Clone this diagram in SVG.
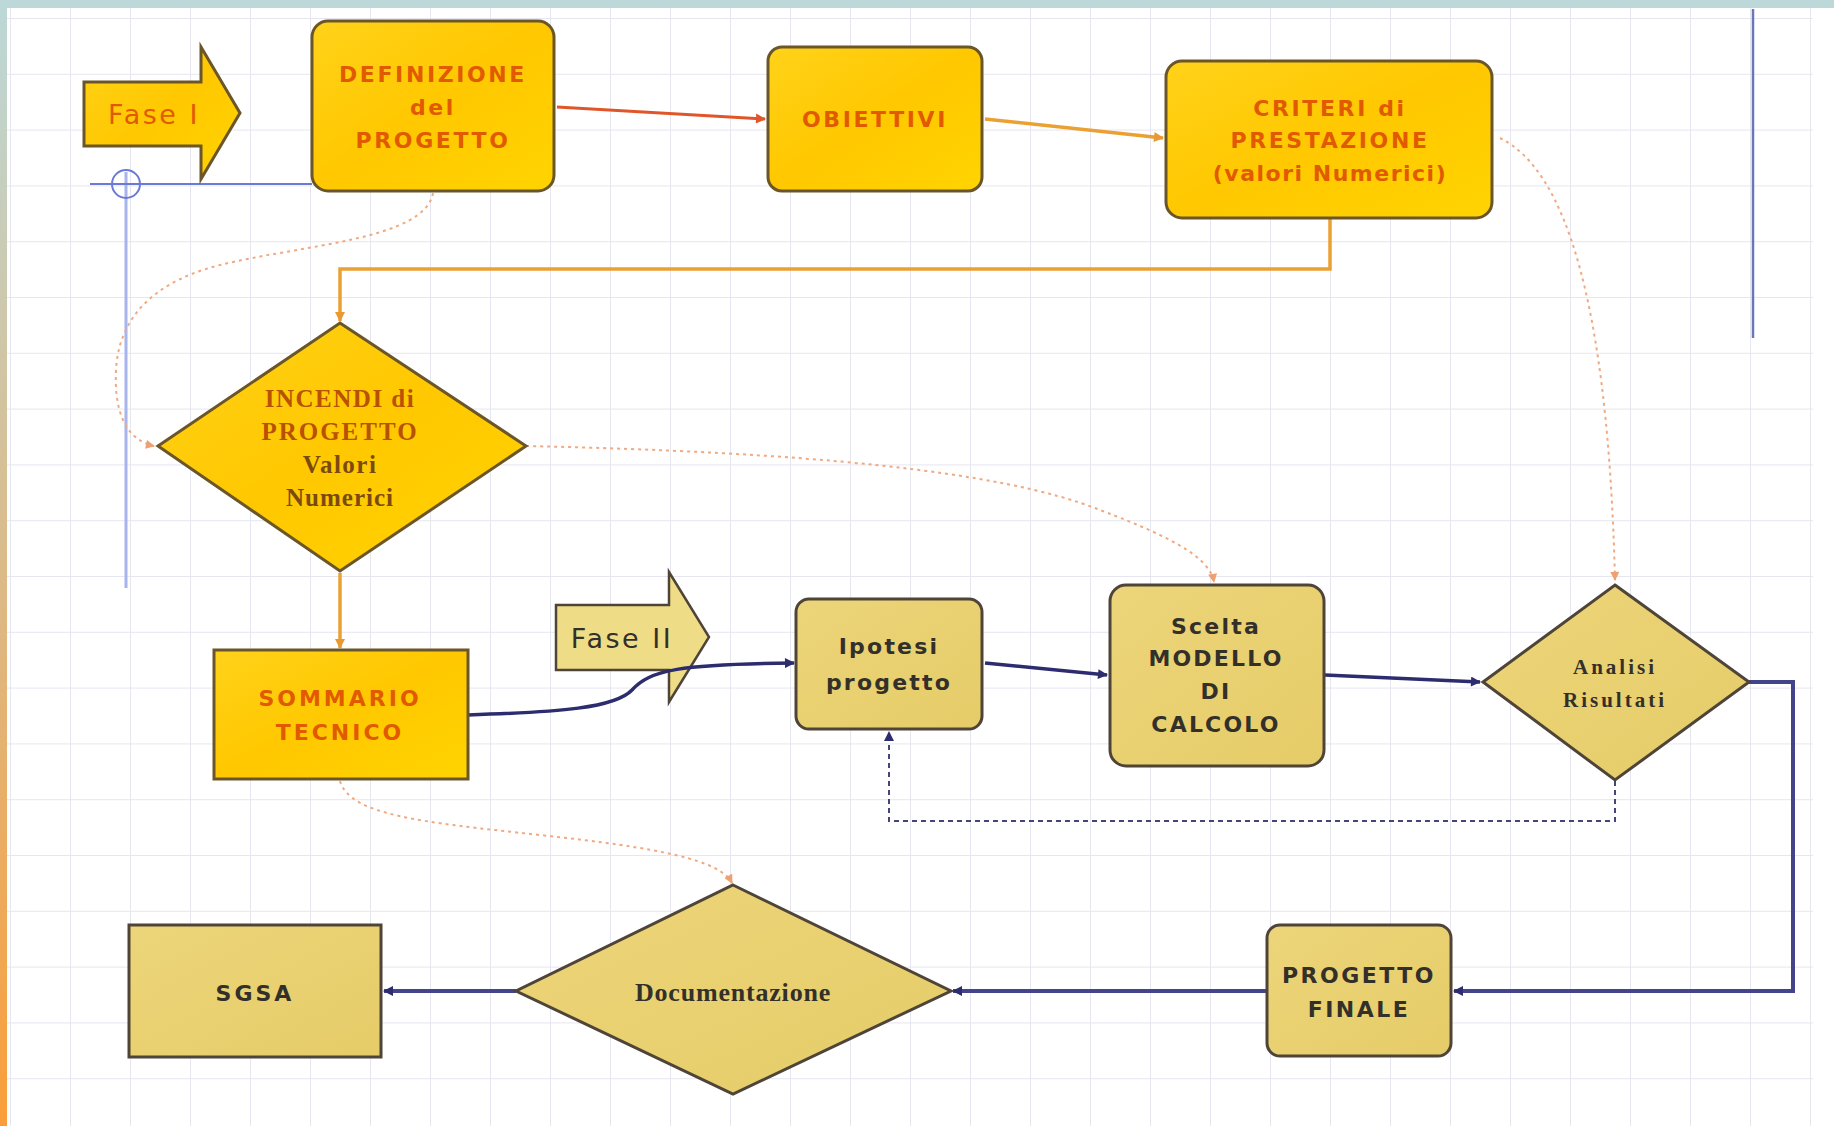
<svg xmlns="http://www.w3.org/2000/svg" width="1834" height="1126" viewBox="0 0 1834 1126">
<defs>
  <pattern id="grid" x="10" y="18" width="60" height="55.8" patternUnits="userSpaceOnUse">
    <path d="M0,0 V55.8 M0,0 H60" fill="none" stroke="#e6e6f0" stroke-width="2"/>
  </pattern>
  <linearGradient id="leftStrip" x1="0" y1="0" x2="0" y2="1">
    <stop offset="0" stop-color="#bcd8d8"/>
    <stop offset="1" stop-color="#fa9e3a"/>
  </linearGradient>
  <linearGradient id="gold" x1="0" y1="0" x2="1" y2="1">
    <stop offset="0" stop-color="#ffd21a"/>
    <stop offset="0.5" stop-color="#ffc800"/>
    <stop offset="1" stop-color="#ffd400"/>
  </linearGradient>
  <linearGradient id="khaki" x1="0" y1="0" x2="1" y2="1">
    <stop offset="0" stop-color="#ecd57a"/>
    <stop offset="1" stop-color="#e6cc68"/>
  </linearGradient>
  <marker id="ahRed" viewBox="0 0 10 10" refX="9" refY="5" markerWidth="12" markerHeight="10" markerUnits="userSpaceOnUse" orient="auto">
    <path d="M0,0 L10,5 L0,10 Z" fill="#e0562a"/>
  </marker>
  <marker id="ahOrange" viewBox="0 0 10 10" refX="9" refY="5" markerWidth="12" markerHeight="10" markerUnits="userSpaceOnUse" orient="auto">
    <path d="M0,0 L10,5 L0,10 Z" fill="#e89a30"/>
  </marker>
  <marker id="ahDot" viewBox="0 0 10 10" refX="9" refY="5" markerWidth="10" markerHeight="9" markerUnits="userSpaceOnUse" orient="auto">
    <path d="M0,0 L10,5 L0,10 Z" fill="#eea070"/>
  </marker>
  <marker id="ahNavy" viewBox="0 0 10 10" refX="9" refY="5" markerWidth="12" markerHeight="10" markerUnits="userSpaceOnUse" orient="auto">
    <path d="M0,0 L10,5 L0,10 Z" fill="#2c2c6e"/>
  </marker>
  <style>
    .gold { fill: url(#gold); stroke: #6a5628; stroke-width: 3; }
    .khaki { fill: url(#khaki); stroke: #4e4438; stroke-width: 3; }
    .t1 { font-family: "DejaVu Sans", Verdana, sans-serif; font-weight: bold; font-size: 22px; fill: #e25a00; text-anchor: middle; letter-spacing: 2.6px; }
    .t2 { font-family: "DejaVu Sans", Verdana, sans-serif; font-weight: bold; font-size: 22px; fill: #33302a; text-anchor: middle; letter-spacing: 2.2px; }
    .ts { font-family: "Liberation Serif", "Times New Roman", serif; font-weight: bold; text-anchor: middle; }
    .fase { font-family: "DejaVu Sans", Verdana, sans-serif; font-size: 27px; text-anchor: middle; letter-spacing: 2.5px; }
    .cRed { fill: none; stroke: #e0562a; stroke-width: 3; }
    .cOr { fill: none; stroke: #eba034; stroke-width: 3.5; }
    .cNavy { fill: none; stroke: #2c2c6e; stroke-width: 3.5; }
    .cBlue { fill: none; stroke: #44448a; stroke-width: 4; }
    .cDot { fill: none; stroke: #f0aa80; stroke-width: 2; stroke-dasharray: 3 4; }
    .cDash { fill: none; stroke: #45457a; stroke-width: 2; stroke-dasharray: 5 4; }
  </style>
</defs>

<!-- background -->
<rect x="0" y="0" width="1834" height="1126" fill="#ffffff"/>
<rect x="7" y="8" width="1806" height="1118" fill="url(#grid)"/>
<rect x="0" y="0" width="1834" height="8" fill="#bcd8d8"/>
<rect x="0" y="0" width="7" height="1126" fill="url(#leftStrip)"/>

<!-- decorations (blue guide lines) -->
<g id="guides">
  <line x1="126" y1="172" x2="126" y2="588" stroke="#a8b4ec" stroke-width="3"/>
  <line x1="90" y1="184" x2="312" y2="184" stroke="#6a7ad8" stroke-width="2"/>
  <circle cx="126" cy="184" r="14" fill="none" stroke="#6a7ad8" stroke-width="2"/>
  <line x1="1753" y1="9" x2="1753" y2="338" stroke="#6a78b8" stroke-width="2.5"/>
</g>

<!-- phase arrows -->
<g id="fase1">
  <path d="M84,82 H201 V47 L240,113 L201,179 V146 H84 Z" class="gold"/>
  <text x="154" y="124" class="fase" fill="#e25a00">Fase I</text>
</g>
<g id="fase2">
  <path d="M556,605 H669 V572 L709,637 L669,702 V670 H556 Z" fill="#efdc86" stroke="#4e4438" stroke-width="2.5"/>
  <text x="622" y="648" class="fase" fill="#33302a">Fase II</text>
</g>

<!-- connectors -->
<g id="connectors">
  <line x1="557" y1="107" x2="765" y2="119" class="cRed" marker-end="url(#ahRed)"/>
  <line x1="985" y1="119" x2="1163" y2="138" class="cOr" marker-end="url(#ahOrange)"/>
  <path d="M1330,219 V269 H340 V321" class="cOr" marker-end="url(#ahOrange)"/>
  <line x1="340" y1="573" x2="340" y2="648" class="cOr" marker-end="url(#ahOrange)"/>

  <path d="M433,193 C425,240 300,245 220,265 C140,285 118,330 116,370 C114,410 125,440 154,446" class="cDot" marker-end="url(#ahDot)"/>
  <path d="M526,446 C800,452 1000,470 1100,510 C1180,540 1210,560 1214,582" class="cDot" marker-end="url(#ahDot)"/>
  <path d="M1500,138 C1565,170 1608,300 1615,580" class="cDot" marker-end="url(#ahDot)"/>
  <path d="M340,781 C350,815 420,822 540,835 C660,848 720,860 732,883" class="cDot" marker-end="url(#ahDot)"/>

  <path d="M468,715 C560,712 615,708 632,690 C650,670 680,664 794,663" class="cNavy" marker-end="url(#ahNavy)"/>
  <line x1="985" y1="663" x2="1107" y2="675" class="cNavy" marker-end="url(#ahNavy)"/>
  <line x1="1325" y1="675" x2="1480" y2="682" class="cNavy" marker-end="url(#ahNavy)"/>
  <path d="M1749,682 H1793 V991 H1454" class="cBlue" marker-end="url(#ahNavy)"/>
  <line x1="1267" y1="991" x2="953" y2="991" class="cBlue" marker-end="url(#ahNavy)"/>
  <line x1="516" y1="991" x2="384" y2="991" class="cBlue" marker-end="url(#ahNavy)"/>
  <path d="M1615,781 V821 H889 V732" class="cDash" marker-end="url(#ahNavy)"/>
</g>

<!-- nodes -->
<g id="definizione">
  <rect x="312" y="21" width="242" height="170" rx="16" class="gold"/>
  <text class="t1" x="433" y="82">DEFINIZIONE</text>
  <text class="t1" x="433" y="115">del</text>
  <text class="t1" x="433" y="148">PROGETTO</text>
</g>
<g id="obiettivi">
  <rect x="768" y="47" width="214" height="144" rx="14" class="gold"/>
  <text class="t1" x="875" y="127">OBIETTIVI</text>
</g>
<g id="criteri">
  <rect x="1166" y="61" width="326" height="157" rx="16" class="gold"/>
  <text class="t1" x="1330" y="116">CRITERI di</text>
  <text class="t1" x="1330" y="148">PRESTAZIONE</text>
  <text class="t1" x="1330" y="181" style="letter-spacing:1.5px">(valori Numerici)</text>
</g>
<g id="incendi">
  <polygon points="340,323 526,446 340,571 158,446" class="gold"/>
  <text class="ts" x="340" y="407" font-size="25" fill="#b85200" letter-spacing="1.5">INCENDI di</text>
  <text class="ts" x="340" y="440" font-size="25" fill="#b85200" letter-spacing="2">PROGETTO</text>
  <text class="ts" x="340" y="473" font-size="25" fill="#7a4a10" letter-spacing="1.5">Valori</text>
  <text class="ts" x="340" y="506" font-size="25" fill="#7a4a10" letter-spacing="1">Numerici</text>
</g>
<g id="sommario">
  <rect x="214" y="650" width="254" height="129" class="gold"/>
  <text class="t1" x="340" y="706" style="letter-spacing:3px">SOMMARIO</text>
  <text class="t1" x="340" y="740" style="letter-spacing:3px">TECNICO</text>
</g>
<g id="ipotesi">
  <rect x="796" y="599" width="186" height="130" rx="13" class="khaki"/>
  <text class="t2" x="889" y="654">Ipotesi</text>
  <text class="t2" x="889" y="690">progetto</text>
</g>
<g id="scelta">
  <rect x="1110" y="585" width="214" height="181" rx="16" class="khaki"/>
  <text class="t2" x="1216" y="634">Scelta</text>
  <text class="t2" x="1216" y="666">MODELLO</text>
  <text class="t2" x="1216" y="699">DI</text>
  <text class="t2" x="1216" y="732">CALCOLO</text>
</g>
<g id="analisi">
  <polygon points="1615,585 1749,682 1615,780 1483,682" class="khaki"/>
  <text class="ts" x="1615" y="674" font-size="21" fill="#33302a" letter-spacing="3">Analisi</text>
  <text class="ts" x="1615" y="707" font-size="21" fill="#33302a" letter-spacing="3">Risultati</text>
</g>
<g id="progetto-finale">
  <rect x="1267" y="925" width="184" height="131" rx="13" class="khaki"/>
  <text class="t2" x="1359" y="983" style="letter-spacing:2.5px">PROGETTO</text>
  <text class="t2" x="1359" y="1017" style="letter-spacing:2.5px">FINALE</text>
</g>
<g id="documentazione">
  <polygon points="733,885 951,991 733,1094 516,991" class="khaki"/>
  <text class="ts" x="733" y="1001" font-size="26" fill="#33302a" letter-spacing="0.8">Documentazione</text>
</g>
<g id="sgsa">
  <rect x="129" y="925" width="252" height="132" class="khaki"/>
  <text class="t2" x="255" y="1001" style="letter-spacing:3px">SGSA</text>
</g>
</svg>
